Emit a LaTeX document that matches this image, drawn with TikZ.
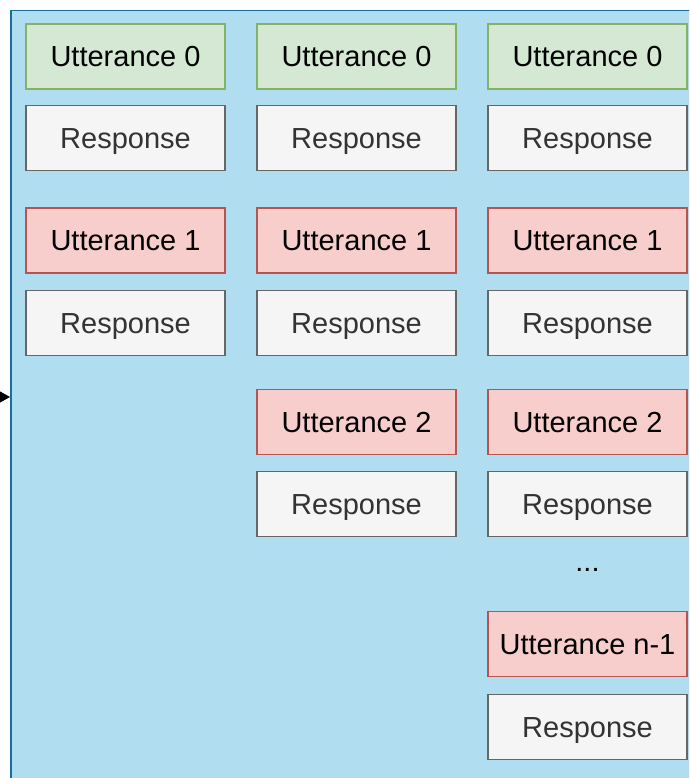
\documentclass[tikz,border=0pt]{standalone}
\usepackage{fontspec}
\setmainfont{Liberation Sans}
\usetikzlibrary{arrows.meta}
\definecolor{contfill}{HTML}{B1DDF0}
\definecolor{contdraw}{HTML}{10739E}
\definecolor{gfill}{HTML}{D5E8D4}
\definecolor{gdraw}{HTML}{82B366}
\definecolor{rfill}{HTML}{F8CECC}
\definecolor{rdraw}{HTML}{B85450}
\definecolor{wfill}{HTML}{F5F5F5}
\definecolor{wdraw}{HTML}{666666}
\definecolor{wtext}{HTML}{333333}
\begin{document}
\begin{tikzpicture}[x=1pt,y=-1pt,
  box/.style={draw, line width=1.3pt, minimum width=199pt, minimum height=65pt, inner sep=0pt, text height=26pt, text depth=5.2pt, font=\fontsize{29}{34}\selectfont},
  utt0/.style={box, fill=gfill, draw=gdraw},
  utt/.style={box, fill=rfill, draw=rdraw},
  resp/.style={box, fill=wfill, draw=wdraw, text=wtext},
  container/.style={draw=contdraw, fill=contfill, line width=1.5pt, minimum width=690pt, minimum height=780pt, inner sep=0pt, anchor=north west}]
\useasboundingbox (0,0) rectangle (689,778);
\begin{scope}
\clip (0,0) rectangle (689,778);
\node[container] (cont) at (10,10) {};
\end{scope}
\coordinate (src) at (-20,397);
\draw[line width=1.3pt, -{Triangle[length=11pt,width=12pt]}] (src) -- (cont.west |- src);
% column 1
\node[utt0] (a0) at (125.5,56.5) {Utterance 0};
\node[resp] (ar0) at (125.5,138) {Response};
\node[utt] (a1) at (125.5,240.5) {Utterance 1};
\node[resp] (ar1) at (125.5,323) {Response};
% column 2
\node[utt0] (b0) at (356.5,56.5) {Utterance 0};
\node[resp] (br0) at (356.5,138) {Response};
\node[utt] (b1) at (356.5,240.5) {Utterance 1};
\node[resp] (br1) at (356.5,323) {Response};
\node[utt] (b2) at (356.5,422) {Utterance 2};
\node[resp] (br2) at (356.5,504) {Response};
% column 3
\node[utt0] (c0) at (587.5,56.5) {Utterance 0};
\node[resp] (cr0) at (587.5,138) {Response};
\node[utt] (c1) at (587.5,240.5) {Utterance 1};
\node[resp] (cr1) at (587.5,323) {Response};
\node[utt] (c2) at (587.5,422) {Utterance 2};
\node[resp] (cr2) at (587.5,504) {Response};
\node[font=\fontsize{29}{34}\selectfont, anchor=base] (dots) at (587.5,571) {...};
\node[utt] (cn) at (587.5,644) {Utterance n-1};
\node[resp] (crn) at (587.5,727) {Response};
\end{tikzpicture}
\end{document}
